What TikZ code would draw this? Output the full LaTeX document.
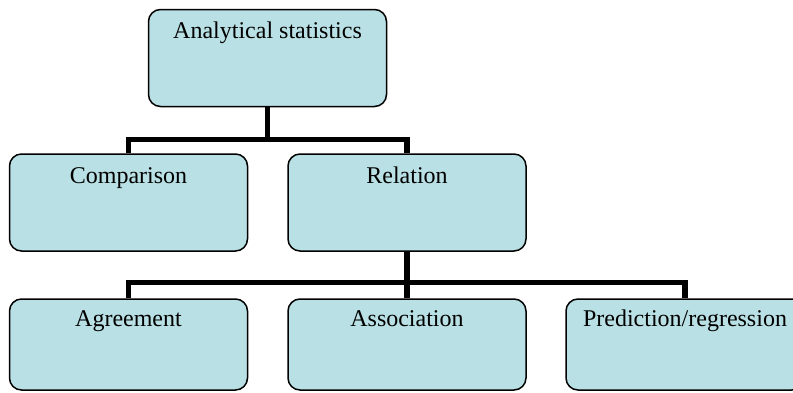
\documentclass[tikz,border=0pt]{standalone}
\usepackage{fontspec}
\setmainfont{Liberation Serif}
\definecolor{boxfill}{RGB}{185,224,228}
\begin{document}
\begin{tikzpicture}[x=0.5pt,y=-0.5pt,
  box/.style={draw=black,line width=0.75pt,fill=boxfill,rounded corners=6pt,
    minimum width=119pt,minimum height=48.5pt,inner sep=0pt},
  lowbox/.style={box,minimum height=45.5pt},
  lbl/.style={anchor=base,font=\fontsize{12pt}{14pt}\selectfont,inner sep=0pt},
  conn/.style={line width=2.75pt,line join=miter}]
\useasboundingbox (0,0) rectangle (793,392);
% boxes
\node[box] (top) at (267.5,58) {};
\node[box] (cmp) at (128.5,202.5) {};
\node[box] (rel) at (407,202.5) {};
\node[lowbox] (agr) at (128.5,344.5) {};
\node[lowbox] (ass) at (407,344.5) {};
\node[lowbox] (pre) at (685,344.5) {};
% labels
\node[lbl] (ttop) at ([yshift=-15pt]top.north) {Analytical statistics};
\node[lbl] (tcmp) at ([yshift=-15pt]cmp.north) {Comparison};
\node[lbl] (trel) at ([yshift=-15pt]rel.north) {Relation};
\node[lbl] (tagr) at ([yshift=-14pt]agr.north) {Agreement};
\node[lbl] (tass) at ([yshift=-14pt]ass.north) {Association};
\node[lbl] (tpre) at ([yshift=-14pt]pre.north) {Prediction/regression};
% connector levels
\coordinate (b1) at (0,139.5);
\coordinate (b2) at (0,282.5);
% connectors
\draw[conn] (top.south) -- (top.south |- b1);
\draw[conn] (cmp.north) -- (cmp.north |- b1) -- (rel.north |- b1) -- (rel.north);
\draw[conn] (rel.south) -- (rel.south |- b2);
\draw[conn] (agr.north) -- (agr.north |- b2) -- (pre.north |- b2) -- (pre.north);
\draw[conn] (ass.north) -- (ass.north |- b2);
\end{tikzpicture}
\end{document}
